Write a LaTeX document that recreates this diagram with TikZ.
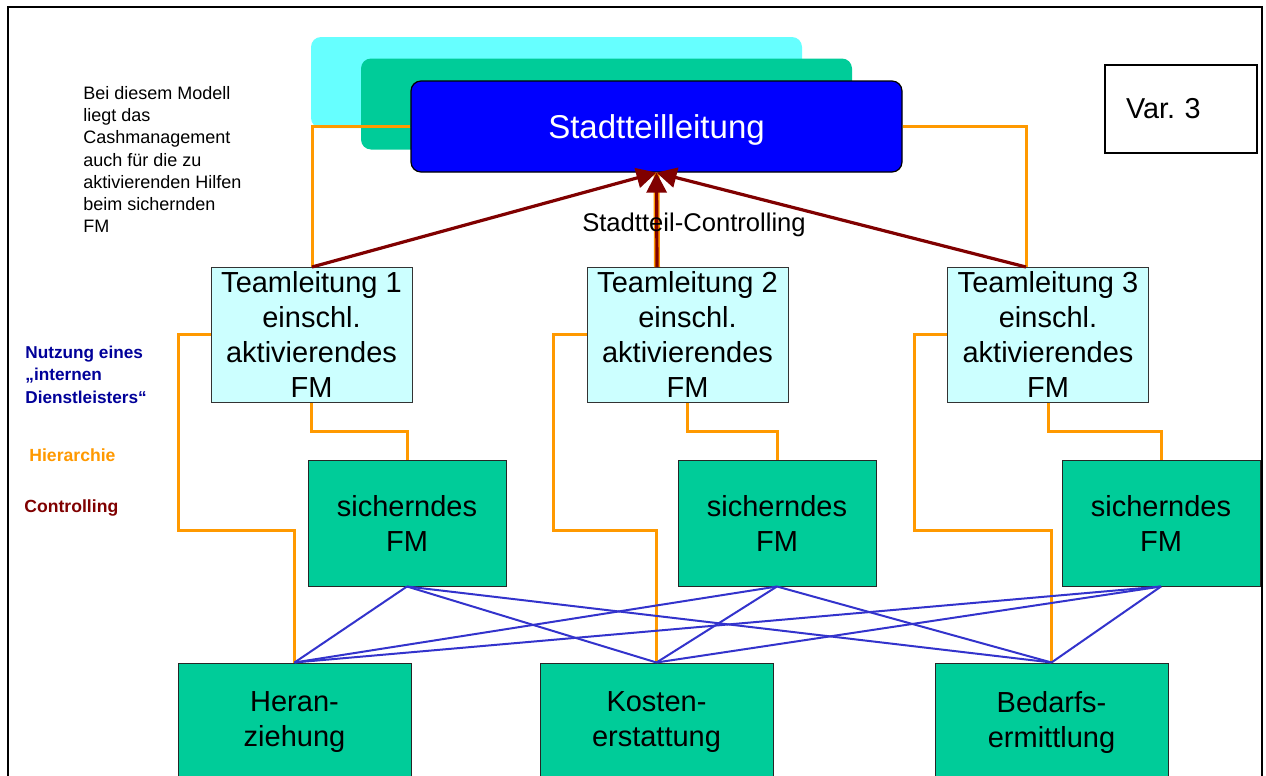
\documentclass[tikz,border=0pt]{standalone}
\usepackage{fontspec}
\setmainfont{Liberation Sans}
\usetikzlibrary{arrows.meta,calc}
\definecolor{cyanbg}{HTML}{66FFFF}
\definecolor{greenbx}{HTML}{00CC99}
\definecolor{bluebx}{HTML}{0000FF}
\definecolor{tlfill}{HTML}{CCFFFF}
\definecolor{orng}{HTML}{FF9900}
\definecolor{dred}{HTML}{800000}
\definecolor{blin}{HTML}{3333CC}
\definecolor{legblue}{HTML}{000099}
\frenchspacing
\tikzset{
  bigfont/.style={font=\fontsize{14.5}{17.5}\selectfont},
  tlbox/.style={draw=black!80, line width=0.5pt, fill=tlfill, minimum width=100.5pt, minimum height=67.5pt, inner sep=0pt, align=center, bigfont},
  sbox/.style={draw=black!85, line width=0.5pt, fill=greenbx, minimum width=99pt, minimum height=63pt, inner sep=0pt, align=center, bigfont},
  botbox/.style={draw=black!85, line width=0.5pt, fill=greenbx, minimum width=116.5pt, minimum height=59pt, inner sep=0pt, align=center, bigfont},
  stackbox/.style={rounded corners=5pt, minimum width=245.5pt, minimum height=45.5pt, inner sep=0pt},
  hier/.style={draw=orng, line width=1.5pt},
  ctrl/.style={draw=dred, line width=1.6pt, -{Triangle[length=10pt,width=10pt]}},
  svc/.style={draw=blin, line width=1pt},
  plain/.style={inner sep=0pt, align=left},
}
\begin{document}
\begin{tikzpicture}[x=0.5pt,y=-0.5pt]
\clip (0,0) rectangle (1266,776);
\useasboundingbox (0,0) rectangle (1266,776);
\fill[white] (0,0) rectangle (1266,776);
\draw[line width=1pt] (8,800) -- (8,7) -- (1262,7) -- (1262,800);

% stacked top boxes
\node[stackbox, fill=cyanbg] (cy) at (556.5,82.5) {};
\node[stackbox, fill=greenbx] (gr) at (606.5,104) {};

% coordinates on the team leader tops
\coordinate (t1) at (312,267);
\coordinate (t2) at (657,267);
\coordinate (t3) at (1026,267);

% main boxes
\node[stackbox, fill=bluebx, draw=black, line width=0.6pt, text=white, text height=15pt, text depth=3.5pt, font=\fontsize{16.5}{20}\selectfont] (st) at (656.5,126.5) {Stadtteilleitung};

\node[tlbox] (tl1) at (311.5,334.5) {Teamleitung 1\\einschl.\\aktivierendes\\FM};
\node[tlbox] (tl2) at (687.5,334.5) {Teamleitung 2\\einschl.\\aktivierendes\\FM};
\node[tlbox] (tl3) at (1048,334.5) {Teamleitung 3\\einschl.\\aktivierendes\\FM};

\node[sbox] (s1) at (407,523) {sicherndes\\FM};
\node[sbox] (s2) at (777,523) {sicherndes\\FM};
\node[sbox] (s3) at (1161,523) {sicherndes\\FM};

\node[botbox] (h) at (294.5,722) {Heran-\\ziehung};
\node[botbox] (k) at (656.5,722) {Kosten-\\erstattung};
\node[botbox] (b) at (1051.5,722) {Bedarfs-\\ermittlung};

% hierarchy lines
\draw[hier] (st.west) -| (t1);
\draw[hier] (st.east) -| (t3);
\draw[draw=orng, line width=3pt] (st.south) -- (t2);
\draw[hier] (tl1.west) -| (178,530) -| (h.north);
\draw[hier] (tl2.west) -| (553,530) -| (k.north);
\draw[hier] (tl3.west) -| (914,530) -| (b.north);
\draw[hier] (tl1.south) |- ($(tl1.south)!0.5!(s1.north)$) -| (s1.north);
\draw[hier] (tl2.south) |- ($(tl2.south)!0.5!(s2.north)$) -| (s2.north);
\draw[hier] (tl3.south) |- ($(tl3.south)!0.5!(s3.north)$) -| (s3.north);

% service lines
\foreach \s in {s1,s2,s3}{
  \foreach \t in {h,k,b}{
    \draw[svc] (\s.south) -- (\t.north);
  }
}

% controlling arrows
\draw[ctrl] (t1) -- (st.south);
\draw[ctrl] (t3) -- (st.south);
\draw[ctrl] (t2) -- (st.south);

\node[plain, font=\fontsize{12.8}{15}\selectfont] (sc) at (694,225) {Stadtteil-Controlling};

% Var 3 box
\node[draw=black, line width=0.7pt, minimum width=76pt, minimum height=44pt, text width=55pt, inner xsep=10.5pt, align=left, font=\fontsize{14.4}{17}\selectfont] (var) at (1181,109) {Var. 3};

% explanatory text
\node[plain, anchor=west, font=\fontsize{9}{11.1}\selectfont] (expl) at (83,159.5) {Bei diesem Modell\\liegt das\\Cashmanagement\\auch für die zu\\aktivierenden Hilfen\\beim sichernden\\FM};

% legend
\node[plain, anchor=west, text=legblue, font=\bfseries\fontsize{8.6}{11.25}\selectfont] (lg1) at (25,374.5) {Nutzung eines\\„internen\\Dienstleisters“};
\node[plain, anchor=west, text=orng, font=\bfseries\fontsize{8.8}{11}\selectfont] (lg2) at (29,455) {Hierarchie};
\node[plain, anchor=west, text=dred, font=\bfseries\fontsize{8.8}{11}\selectfont] (lg3) at (24,508) {Controlling};
\end{tikzpicture}
\end{document}
